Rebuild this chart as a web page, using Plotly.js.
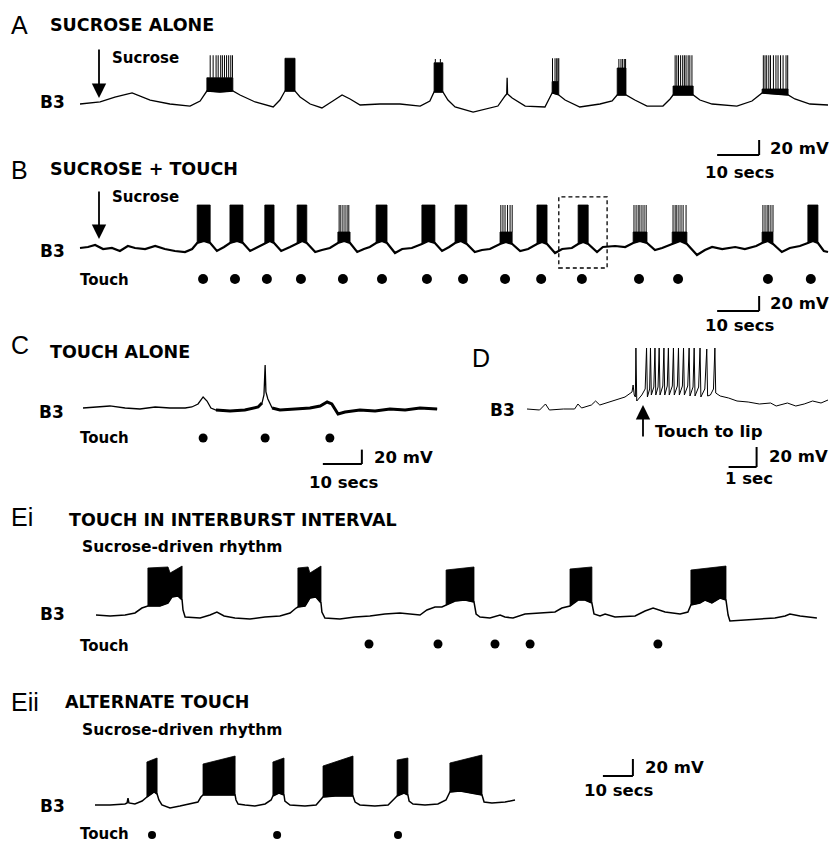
<!DOCTYPE html>
<html><head><meta charset="utf-8">
<script src="https://cdn.plot.ly/plotly-3.0.1.min.js"></script>
<style>html,body{margin:0;padding:0;background:#fff}#chart{width:830px;height:842px}</style>
</head><body><div id="chart"></div>
<script>
// ================= DATA (time in s, membrane potential in mV) =================
// Panel A – sucrose alone
const aTraceT = [0,4.8,8.3,12.4,16.7,21.4,26.2,28.6,30.2,33.3,36.4,38.1,41.7,46,47.6,48.8,51.2,52.4,54.8,57.6,60.2,62.4,64.3,66.7,71.4,76.2,81,83.3,84.3,86.4,87.6,89.3,93.6,97.6,99.5,101.2,101.6,101.7,101.8,102.9,106,110.7,111.9,112.4,114,115.5,119,123.8,126.7,127.9,130,132.1,135,138.8,140.5,141.2,146,147.6,150.5,156.4,160,162.4,168.6,170.2,173.8,178.1];
const aTraceV = [-60,-57.3,-50.7,-45.3,-54.7,-60,-62.7,-56,-42.7,-44,-42.7,-48,-57.3,-64,-54.7,-42.7,-42.7,-50.7,-60,-65.3,-56,-48,-53.3,-61.3,-60,-60,-62.7,-56,-44,-44,-54.7,-64,-70.7,-65.3,-62.7,-49.3,-46.7,-25,-46.7,-52,-62.7,-64,-52,-45.3,-48,-54.7,-64,-60,-56,-48,-48,-54.7,-62.7,-62.7,-53.3,-48,-48,-54.7,-60,-62.7,-56,-45.3,-48,-53.3,-60,-61.3];
const aBurstTopT = [[30.2,36.4],[48.8,51.2],[84.3,86.4],[112.4,114],[127.9,130],[141.2,146],[162.4,168.6]];
const aBurstTopV = [[-25,-25],[1,1],[-5,-5],[-30,-30],[-12,-12],[-36,-36],[-40,-40]];
const aSpikeT = [[31.0,31.7,32.4,32.9,33.5,33.9,34.4,34.9,35.4,35.9,36.3],[],[84.6,85.8],[112.5,113.1,113.5,113.8,114.0],[128.3,128.8,129.2,129.6,129.9],[141.7,142.1,142.5,143.0,143.5,143.9,144.3,144.8,145.2,145.7],[162.7,163.1,163.5,164.0,164.4,165.1,165.7,166.2,166.8,167.4,168.1,168.5]];
const aSpikePeak = [5,1,0,1,0,5,5];

// Panel B – sucrose + touch
const bTraceT = [0,1.9,3.6,5.5,7.6,9.5,11.4,13.1,15.5,17.9,20.2,22.6,25,26.7,27.9,29.5,31,32.6,34.3,35.7,37.4,38.8,40.5,42.4,44,45.2,46.2,47.9,50,51.7,52.9,54,56,57.6,59.5,61.4,62.9,64.3,66,67.6,69,70.5,71.9,73.1,75,76.7,79,81.4,82.9,84.5,86.2,87.9,89.3,90.7,92.1,94,95.7,97.6,100,101.4,102.9,104.8,106.7,108.8,110,111.2,113.1,114.8,117.1,118.6,119.8,121,123.1,124.5,127.4,129.8,131.7,133.3,135,136.9,138.6,141,142.9,144.5,146.9,148.8,150.5,152.9,156,158.3,161,162.4,163.8,165,167.1,169,171.4,173.3,174.5,175.7,177.1,178.1];
const bTraceV = [-57.3,-56,-53.3,-58.7,-57.3,-61.3,-54.7,-57.3,-58.7,-54.7,-58.7,-61.3,-62.7,-58.7,-50.7,-48,-50.7,-61.3,-56,-50.7,-48,-50.7,-61.3,-56,-50.7,-48,-50.7,-61.3,-56,-50.7,-48,-50.7,-62.7,-60,-57.3,-50.7,-48,-50.7,-62.7,-58.7,-56,-50.7,-48,-50.7,-64,-58.7,-57.3,-52,-48,-50.7,-61.3,-56,-50.7,-48,-52,-62.7,-60,-58.7,-52,-49.3,-52,-61.3,-58.7,-52,-49.3,-52,-64,-58.7,-57.3,-52,-49.3,-52,-62.7,-56,-54.7,-56,-50.7,-48,-50.7,-60,-57.3,-52,-48,-52,-66.7,-60,-56,-58.7,-56,-58.7,-54.7,-50.7,-48,-52,-62.7,-57.3,-54.7,-50.7,-48,-50.7,-61.3,-62.7];
const bBurstTopT = [[27.9,31],[35.7,38.8],[44,46.2],[51.7,54],[61.4,64.3],[70.5,73.1],[81.4,84.5],[89.3,92.1],[100,102.9],[108.8,111.2],[118.6,121],[131.7,135],[141,144.5],[162.4,165],[173.3,175.7]];
const bBurstTopV = [[0,0],[0,0],[0,0],[0,0],[-36,-36],[0,0],[0,0],[0,0],[-36,-36],[0,0],[0,0],[-36,-36],[-36,-36],[-36,-36],[0,0]];
const bSpikeT = [[],[],[],[],[61.7,62.1,62.6,63.1,63.6,64.0],[],[],[],[100.2,100.7,101.2,101.8,102.4,102.9],[],[],[131.9,132.4,132.9,133.3,133.8,134.3,134.8],[141.2,141.7,142.1,142.6,143.1,143.6,144.3],[162.6,163.1,163.6,164.0,164.5,165.0],[]];
const bSpikePeak = [0,0,0,0,0,0,0,0,0,0,0,0,0,0,0];
const bTouchT = [29.3,36.9,44.5,52.6,62.6,71.9,82.6,91.2,101.2,109.8,119.5,133.1,142.4,163.8,174.0];

// Panel C – touch alone
const cTraceT = [0,3.1,6.9,10.8,14.6,18.5,22.3,26.2,27.9,29.5,30.8,31.8,32.8,34.1,37.7,41.5,44.9,45.9,46.4,46.7,46.9,47.4,48.5,50.5,54.4,58.2,60.8,62.6,63.8,65.4,67.2,71,74.9,78.7,82.6,86.4,90.8];
const cTraceV = [-60,-58.6,-57.2,-60,-61.4,-58.6,-60,-60,-58.6,-54.4,-44.7,-50.3,-60,-62.8,-64.2,-62.8,-58.6,-53.1,-41.9,-0.3,-37.8,-47.5,-60,-62.8,-61.4,-60,-57.2,-51.7,-54.4,-68.3,-65.6,-62.8,-64.2,-61.4,-62.8,-60,-61.4];
const cNoisyRanges = [[34,46],[48,91]];
const cTouchT = [30.8,46.7,63.3];

// Panel D – touch to lip (expanded time base)
const dTraceT = [0,0.45,0.66,0.8,1.3,1.7,1.82,1.95,2.3,2.45,2.6,2.95,3.2,3.5,3.75,3.79,3.83,3.87,3.89,3.92,3.98,4.1,4.22,4.27,4.3,4.38,4.41,4.44,4.53,4.57,4.6,4.68,4.72,4.75,4.85,4.89,4.92,5.01,5.05,5.08,5.19,5.23,5.26,5.37,5.41,5.44,5.55,5.59,5.62,5.74,5.79,5.82,5.93,5.97,6.0,6.13,6.18,6.21,6.35,6.42,6.45,6.55,6.66,6.71,6.74,6.9,7.2,7.5,7.9,8.3,8.7,8.9,9.3,9.6,9.9,10.2,10.5,10.75];
const dTraceV = [-60,-61,-55,-61,-60,-60,-55,-59,-56,-52,-56,-53,-51,-48,-43,-36,-46,-48,1,-52,-50,-46,-40,1,-48,-40,1,-46,-38,1,-46,-38,1,-46,-37,1,-46,-37,1,-46,-37,1,-46,-37,1,-46,-37,1,-46,-37,1,-47,-38,1,-47,-38,1,-48,-40,0,-47,-46,-40,1,-44,-47,-49,-52,-53,-55,-54,-57,-54,-57,-55,-52,-54,-51];

// Panel Ei – touch in interburst interval
const eiTraceT = [0,4.7,9.7,13,15.3,17.3,21.3,24,25.3,27.3,28.7,29,29.7,34.7,38,40.3,42.7,46.3,51.3,56.3,61.3,64.7,66.7,67.3,69.7,71.3,73.3,75,75.3,76.3,81.3,86.3,91.3,96.3,101.3,105.7,108,110.3,113,115.3,116.7,119.7,123,126,126.7,128,131.3,134.7,136.3,139,143,148,153,155.3,158,160.7,163,165.3,166,168,169.7,173,179.7,183,185.7,189.7,194.7,197.3,198.3,201.3,203,205.3,208,210,210.7,211.3,216.3,221.3,226.3,229.7,231.3,234.7,240.3];
const eiTraceV = [-60,-61.2,-60,-57.6,-51.8,-49.4,-49.4,-45.9,-38.8,-37.6,-42.4,-54.1,-62.4,-63.5,-60,-56.5,-61.2,-63.5,-64.7,-62.4,-61.2,-57.6,-51.8,-50.6,-49.4,-40,-38.8,-45.9,-56.5,-63.5,-64.7,-62.4,-61.2,-58.8,-57.6,-58.8,-60,-54.1,-50.6,-50.6,-48.2,-43.5,-42.4,-44.7,-58.8,-62.4,-63.5,-60,-62.4,-63.5,-58.8,-57.6,-56.5,-51.8,-49.4,-42.4,-42.4,-45.9,-58.8,-61.2,-58.8,-62.4,-61.2,-55.3,-51.8,-56.5,-58.8,-56.5,-48.2,-45.9,-42.4,-45.9,-40,-42.4,-60,-67.1,-65.9,-64.7,-63.5,-61.2,-58.8,-61.2,-63.5];
const eiBurstTopT = [[17.3,24,24.7,28.7],[67.3,70.7,71.3,75],[116.7,126],[158,165.3],[198.3,210]];
const eiBurstTopV = [[-4.7,-3.5,-10.6,-2.4],[-4.7,-3.5,-10.6,-2.4],[-7.1,-3.5],[-5.9,-3.5],[-7.1,-2.4]];
const eiTouchT = [91,114,133,144.7,187.3];

// Panel Eii – alternate touch
const eiiTraceT = [0,5,10,10.7,11,11.3,13.3,15.7,17.3,18.3,19.7,20.7,21.3,22.3,25,28.3,31.7,34.3,35.3,36,40,46.7,47,47.7,50,53.3,56.7,58.7,59.3,61.3,63,63.3,65,70,73.7,75.3,76,80,86,86.7,88.3,93.3,97.7,99.7,100.7,103,104.3,104.7,106,110,114.3,117,118.3,121.7,125.7,129,129.7,132.3,136.7,140];
const eiiTraceV = [-60,-60,-58.8,-57.6,-51.8,-57.6,-58.8,-55.3,-50.6,-48.2,-44.7,-47.1,-54.1,-60,-63.5,-61.2,-58.8,-56.5,-50.6,-48.2,-48.2,-48.2,-54.1,-58.8,-60,-61.2,-58.8,-54.1,-49.4,-45.9,-48.2,-55.3,-60,-61.2,-60,-54.1,-50.6,-49.4,-49.4,-56.5,-60,-61.2,-60,-52.9,-49.4,-45.9,-48.2,-55.3,-58.8,-60,-58.8,-54.1,-44.7,-43.5,-45.9,-48.2,-56.5,-57.6,-56.5,-54.1];
const eiiBurstTopT = [[17.3,20.7],[36,46.7],[59.3,63],[76,86],[100.7,104.3],[118.3,129]];
const eiiBurstTopV = [[-9.4,-4.7],[-11.8,-2.4],[-9.4,-4.7],[-14.1,-2.4],[-7.1,-4.7],[-10.6,-1.2]];
const eiiTouchT = [19,60.7,101];

// ================= LAYOUT / STYLE =================
const W = 830, H = 842, REST = -60;
const BOLD = 'DejaVu Sans', LETTER = 'Liberation Sans';
const P = {
  A:   {ax:1, x0:80,  y0:104, sx:4.2, sy:0.75, yTop:30,  yBot:182},
  B:   {ax:2, x0:80,  y0:250, sx:4.2, sy:0.75, yTop:182, yBot:335, dotV:-98.7},
  C:   {ax:3, x0:83,  y0:408, sx:3.9, sy:0.72, yTop:335, yBot:495, dotV:-101.7},
  D:   {ax:4, x0:527, y0:409, sx:28,  sy:1.0,  yTop:335, yBot:495},
  Ei:  {ax:5, x0:96,  y0:615, sx:3,   sy:0.85, yTop:540, yBot:662, dotV:-94.1},
  Eii: {ax:6, x0:95,  y0:805, sx:3,   sy:0.85, yTop:735, yBot:842, dotV:-95.3}
};
const layout = {width:W, height:H, margin:{l:0,r:0,t:0,b:0}, paper_bgcolor:'#fff',
  plot_bgcolor:'rgba(0,0,0,0)', showlegend:false, shapes:[], annotations:[], hovermode:false};
Object.values(P).forEach(p=>{
  const s = p.ax===1 ? '' : String(p.ax);
  p.xr = 'x'+s; p.yr = 'y'+s;
  layout['xaxis'+s] = {domain:[0,1], range:[(0-p.x0)/p.sx,(W-p.x0)/p.sx], visible:false, fixedrange:true, anchor:'y'+s};
  layout['yaxis'+s] = {domain:[Math.max(0,1-p.yBot/H), 1-p.yTop/H],
    range:[REST-(p.yBot-p.y0)/p.sy, REST+(p.y0-p.yTop)/p.sy], visible:false, fixedrange:true, anchor:'x'+s};
});

const traces = [];
function line(p,T,V,w){
  traces.push({type:'scatter',mode:'lines',x:T,y:V,xaxis:p.xr,yaxis:p.yr,
    line:{color:'#000',width:w},hoverinfo:'skip',cliponaxis:false});
}
function bursts(p,T,V,topT,topV,spT,spPeak){
  topT.forEach((tt,i)=>{
    const t0=tt[0], t1=tt[tt.length-1];
    const xs=[...tt], ys=[...topV[i]];
    for(let k=T.length-1;k>=0;k--){
      if(T[k]>=t0-1e-6 && T[k]<=t1+1e-6){xs.push(T[k]); ys.push(V[k]);}
    }
    xs.push(tt[0]); ys.push(topV[i][0]);
    traces.push({type:'scatter',mode:'lines',x:xs,y:ys,fill:'toself',fillcolor:'#000',
      xaxis:p.xr,yaxis:p.yr,line:{color:'#000',width:0.8},hoverinfo:'skip'});
  });
  if(spT){
    const xs=[], ys=[];
    spT.forEach((arr,i)=>{
      const base=Math.min(...topV[i]);
      arr.forEach(t=>{xs.push(t,t,null); ys.push(base,spPeak[i],null);});
    });
    traces.push({type:'scatter',mode:'lines',x:xs,y:ys,xaxis:p.xr,yaxis:p.yr,
      line:{color:'#000',width:1},hoverinfo:'skip',connectgaps:false});
  }
}
function dots(p,T,size){
  traces.push({type:'scatter',mode:'markers',x:T,y:T.map(()=>p.dotV),xaxis:p.xr,yaxis:p.yr,
    marker:{size:size,color:'#000'},hoverinfo:'skip',cliponaxis:false});
}
function scaleBar(p,t0,v0,dt,dv){
  layout.shapes.push({type:'line',xref:p.xr,yref:p.yr,x0:t0,x1:t0+dt,y0:v0,y1:v0,line:{color:'#000',width:2}});
  layout.shapes.push({type:'line',xref:p.xr,yref:p.yr,x0:t0+dt,x1:t0+dt,y0:v0,y1:v0+dv,line:{color:'#000',width:2}});
}
function txt(s,px,py,size,fam,bold){
  layout.annotations.push({xref:'paper',yref:'paper',x:px/W,y:1-py/H,xanchor:'left',yanchor:'middle',
    showarrow:false,text:bold?'<b>'+s+'</b>':s,font:{family:fam,size:size,color:'#000'}});
}
function arrow(px,pyTip,dy){
  layout.annotations.push({xref:'paper',yref:'paper',x:px/W,y:1-pyTip/H,ax:0,ay:dy,text:'',
    showarrow:true,arrowhead:2,arrowsize:1.6,arrowwidth:1.8,arrowcolor:'#000',standoff:0});
}

// ---- Panel A
bursts(P.A,aTraceT,aTraceV,aBurstTopT,aBurstTopV,aSpikeT,aSpikePeak);
line(P.A,aTraceT,aTraceV,1.3);
scaleBar(P.A,151.7,-128,10,20);
// ---- Panel B
bursts(P.B,bTraceT,bTraceV,bBurstTopT,bBurstTopV,bSpikeT,bSpikePeak);
line(P.B,bTraceT,bTraceV,2.2);
dots(P.B,bTouchT,10);
scaleBar(P.B,151.7,-141.3,10,20);
layout.shapes.push({type:'rect',xref:P.B.xr,yref:P.B.yr,x0:114,x1:125.5,y0:-84,y1:10.7,
  line:{color:'#000',width:1.3,dash:'4px,3px'},fillcolor:'rgba(0,0,0,0)'});
// ---- Panel C
line(P.C,cTraceT,cTraceV,1.3);
cNoisyRanges.forEach(r=>{
  const T=[],V=[];
  cTraceT.forEach((t,k)=>{ if(t>=r[0]&&t<=r[1]){T.push(t);V.push(cTraceV[k]);} });
  line(P.C,T,V,3);
});
dots(P.C,cTouchT,9);
scaleBar(P.C,61.5,-137.8,10,20);
// ---- Panel D
line(P.D,dTraceT,dTraceV,1);
scaleBar(P.D,7.2,-118,1,20);
// ---- Panel Ei
bursts(P.Ei,eiTraceT,eiTraceV,eiBurstTopT,eiBurstTopV);
line(P.Ei,eiTraceT,eiTraceV,1.5);
dots(P.Ei,eiTouchT,9);
// ---- Panel Eii
bursts(P.Eii,eiiTraceT,eiiTraceV,eiiBurstTopT,eiiBurstTopV);
line(P.Eii,eiiTraceT,eiiTraceV,1.5);
dots(P.Eii,eiiTouchT,8);
scaleBar(P.Eii,169.3,-25.9,10,20);

// ---- Text
[['A',9,25],['B',9,170],['C',9,345],['D',470,358],['Ei',9,517],['Eii',9,702]].forEach(a=>txt(a[0],a[1],a[2],25,LETTER,false));
[['SUCROSE ALONE',48,25],['SUCROSE + TOUCH',48,169],['TOUCH ALONE',48,352],
 ['TOUCH IN INTERBURST INTERVAL',67,520],['ALTERNATE TOUCH',63,702]].forEach(a=>txt(a[0],a[1],a[2],17.5,BOLD,true));
[[38,102],[38,251],[37,412],[488,410],[38,614],[38,806]].forEach(a=>txt('B3',a[0],a[1],17,BOLD,true));
[[110,58],[110,197]].forEach(a=>txt('Sucrose',a[0],a[1],15,BOLD,true));
[[78,280],[78,438],[78,646],[78,834]].forEach(a=>txt('Touch',a[0],a[1],15,BOLD,true));
[[80,547],[80,730]].forEach(a=>txt('Sucrose-driven rhythm',a[0],a[1],15.5,BOLD,true));
[[768,148],[768,303],[372,457],[767,456],[643,767]].forEach(a=>txt('20 mV',a[0],a[1],16.5,BOLD,true));
[[703,172],[703,326],[307,482],[582,790]].forEach(a=>txt('10 secs',a[0],a[1],16.5,BOLD,true));
txt('1 sec',723,478,16.5,BOLD,true);
txt('Touch to lip',653,431,16.5,BOLD,true);
arrow(99,98,-50);
arrow(99,239,-49);
arrow(643,405,33);

Plotly.newPlot('chart',traces,layout,{displayModeBar:false,staticPlot:true});
</script></body></html>
